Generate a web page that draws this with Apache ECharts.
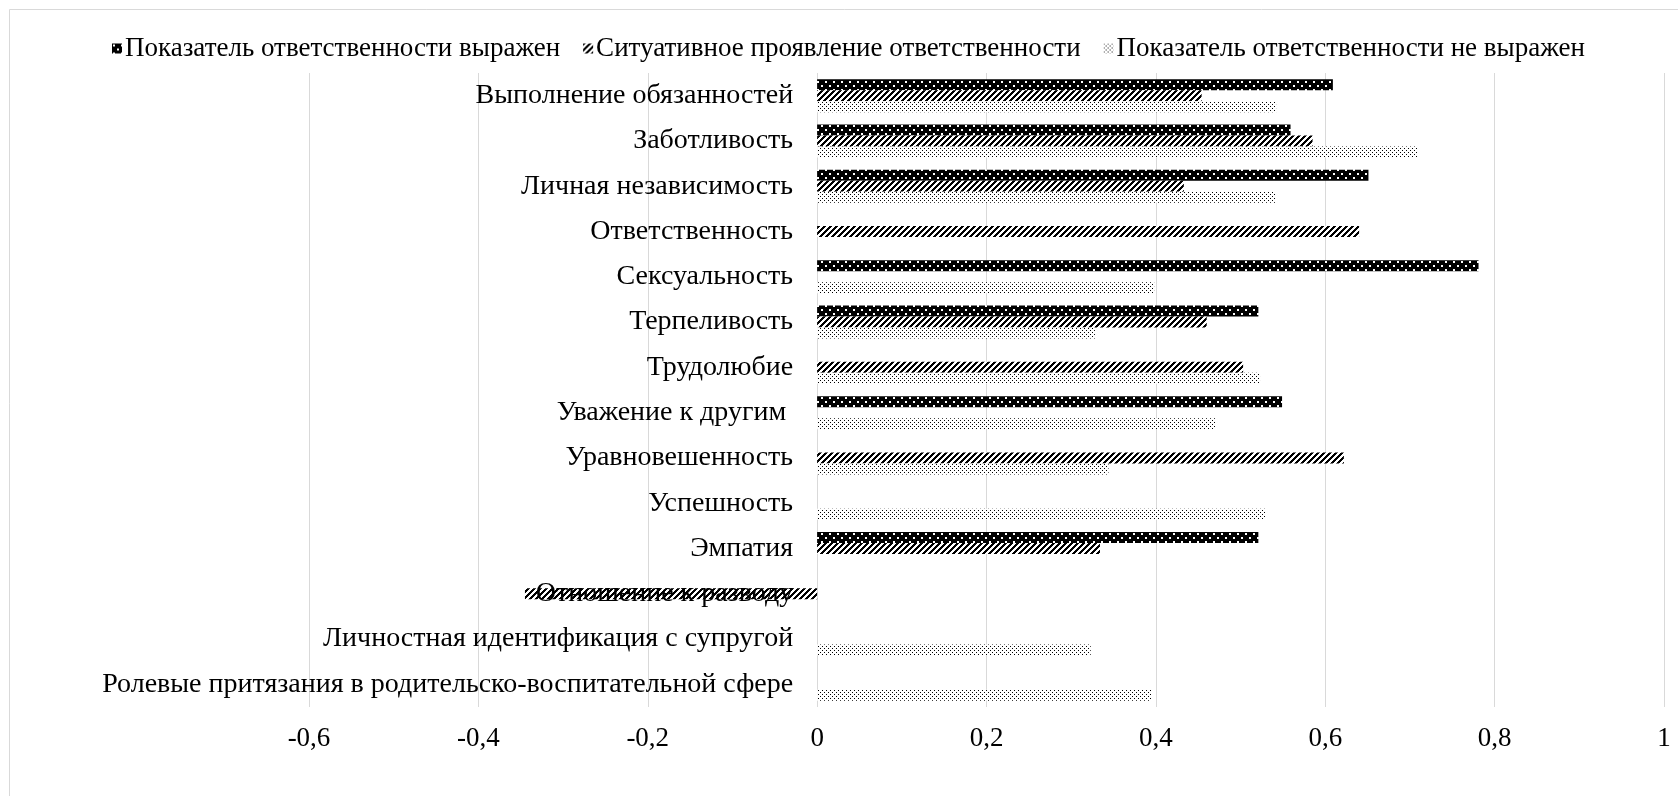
<!DOCTYPE html>
<html><head><meta charset="utf-8">
<script src="https://cdn.jsdelivr.net/npm/echarts@6/dist/echarts.min.js"></script>
<style>html,body{margin:0;padding:0;background:#fff}#c{width:1678px;height:796px}</style>
</head><body><div id="c"></div>
<script>
const categories = ['Выполнение обязанностей','Заботливость','Личная независимость','Ответственность','Сексуальность','Терпеливость','Трудолюбие','Уважение к другим ','Уравновешенность','Успешность','Эмпатия','Отношение к разводу','Личностная идентификация с супругой','Ролевые притязания в родительско-воспитательной сфере'];
const seriesNames = ['Показатель ответственности выражен','Ситуативное проявление ответственности','Показатель ответственности не выражен'];
const expressed =    [0.609, 0.559, 0.651, null, 0.781, 0.521, null, 0.549, null, null, 0.521, null, null, null];
const situational =  [0.454, 0.585, 0.433, 0.640, null, 0.460, 0.503, null, 0.622, null, 0.334, -0.345, null, null];
const notExpressed = [0.542, 0.709, 0.541, null, 0.398, 0.328, 0.523, 0.470, 0.344, 0.530, null, null, 0.323, 0.395];
const xTicks = {min: -0.6, max: 1, interval: 0.2};

function tile(w, h, draw) {
  const c = document.createElement('canvas'); c.width = w; c.height = h;
  const g = c.getContext('2d'); draw(g); return c;
}
const darkPat = tile(8, 8, g => {
  g.fillStyle = '#000'; g.fillRect(0,0,8,8);
  g.fillStyle = '#fff'; g.fillRect(1,1,2,2); g.fillRect(5,5,2,2);
});
const hatchPat = tile(6, 6, g => {
  g.fillStyle = '#fff'; g.fillRect(0,0,6,6);
  g.fillStyle = '#000';
  for (let i = 0; i < 6; i++) {
    for (let k = 0; k < 3; k++) g.fillRect((5 - i + k + 6) % 6, i, 1, 1);
  }
});
const lightPat = tile(4, 4, g => {
  g.fillStyle = '#fff'; g.fillRect(0,0,4,4);
  g.fillStyle = '#000'; g.fillRect(0,0,1,1); g.fillRect(2,2,1,1);
});
const pats = [darkPat, hatchPat, lightPat];
const dataSets = [expressed, situational, notExpressed];

const W = 1678, gridL = 309, gridR = 14;
const zeroOffset = -(0 - xTicks.min) / (xTicks.max - xTicks.min) * (W - gridL - gridR);

const font = 'Liberation Serif';
const chart = echarts.init(document.getElementById('c'), null, {renderer: 'canvas'});
chart.setOption({
  animation: false,
  backgroundColor: '#fff',
  graphic: [{type: 'rect', shape: {x: 9.5, y: 9.5, width: 1700, height: 800}, style: {fill: 'none', stroke: '#d9d9d9', lineWidth: 1}, z: -10}],
  legend: {
    top: 30, left: 107, itemWidth: 10, itemHeight: 10, itemGap: 23,
    icon: 'rect',
    textStyle: {fontFamily: font, fontSize: 27, color: '#000', padding: [0,0,0,-2]},
    data: seriesNames
  },
  grid: {left: gridL, right: gridR, top: 73, bottom: 89, containLabel: false, outerBoundsMode: 'none'},
  xAxis: {
    type: 'value', min: xTicks.min, max: xTicks.max, interval: xTicks.interval,
    axisLine: {show: false}, axisTick: {show: false},
    splitLine: {lineStyle: {color: '#d9d9d9', width: 1}},
    axisLabel: {fontFamily: font, fontSize: 27, color: '#000', margin: 18,
      formatter: v => String(Math.round(v*10)/10).replace('.', ',')}
  },
  yAxis: {
    type: 'category', data: categories, inverse: true, position: 'left',
    offset: zeroOffset, z: 5,
    axisLine: {show: false, onZero: false}, axisTick: {show: false},
    axisLabel: {fontFamily: font, fontSize: 28, color: '#000', margin: 24}
  },
  series: dataSets.map((d, i) => ({
    type: 'bar', name: seriesNames[i], data: d,
    barWidth: 11, barGap: '0%',
    itemStyle: {color: {image: pats[i], repeat: 'repeat'}}
  }))
});
</script></body></html>
